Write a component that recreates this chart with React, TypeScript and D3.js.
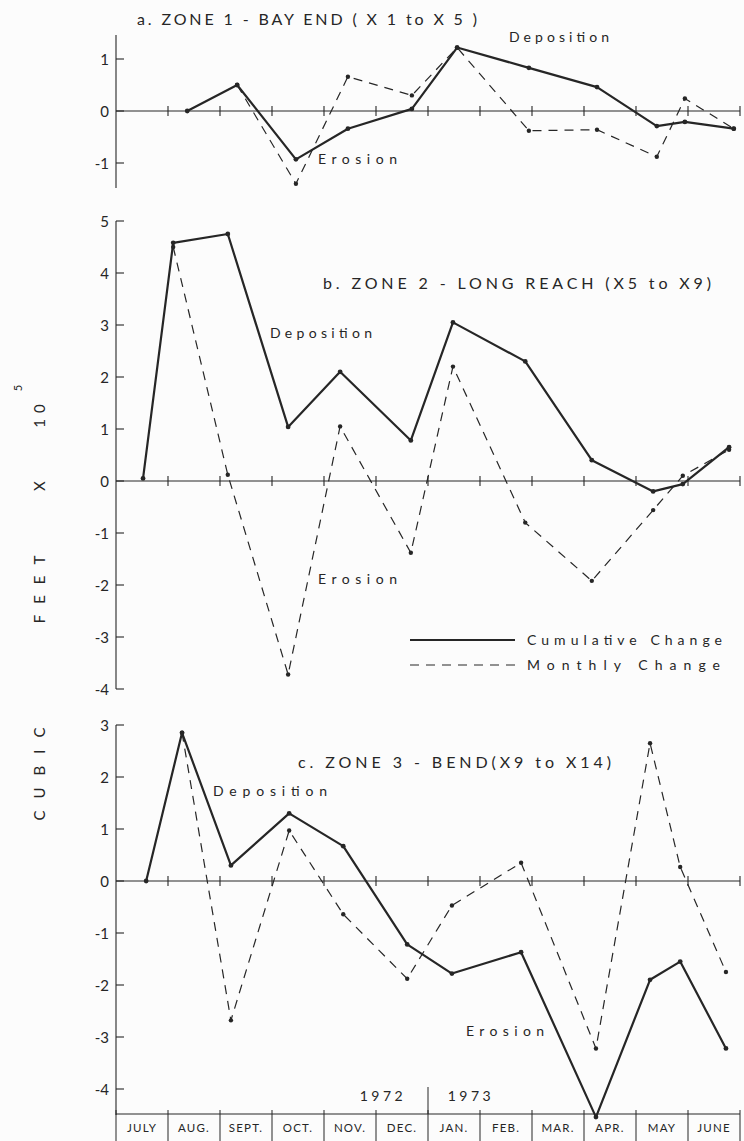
import React from "react";
import * as d3 from "d3";

// ---- Data ----
const MONTHS = ["JULY", "AUG.", "SEPT.", "OCT.", "NOV.", "DEC.", "JAN.", "FEB.", "MAR.", "APR.", "MAY", "JUNE"];

// survey dates in months since 1 July 1972
const zone1Dates = [1.37, 2.33, 3.46, 4.46, 5.69, 6.56, 7.94, 9.25, 10.4, 10.94, 11.88];
const zone1Cumulative = [0, 0.5, -0.93, -0.34, 0.04, 1.22, 0.83, 0.46, -0.29, -0.21, -0.34];
const zone1Monthly = [null, 0.5, -1.4, 0.66, 0.3, 1.22, -0.38, -0.36, -0.88, 0.24, -0.34];

const zone2Dates = [0.52, 1.1, 2.15, 3.31, 4.31, 5.67, 6.48, 7.87, 9.15, 10.33, 10.9, 11.79];
const zone2Cumulative = [0.05, 4.58, 4.75, 1.04, 2.1, 0.78, 3.05, 2.3, 0.4, -0.2, -0.06, 0.65];
const zone2Monthly = [null, 4.5, 0.12, -3.72, 1.05, -1.38, 2.2, -0.8, -1.92, -0.56, 0.1, 0.6];

const zone3Dates = [0.58, 1.27, 2.21, 3.33, 4.37, 5.6, 6.46, 7.79, 9.23, 10.27, 10.85, 11.73];
const zone3Cumulative = [0, 2.85, 0.3, 1.3, 0.67, -1.22, -1.78, -1.37, -4.54, -1.9, -1.55, -3.22];
const zone3Monthly = [null, 2.85, -2.68, 0.97, -0.64, -1.88, -0.47, 0.35, -3.22, 2.65, 0.27, -1.75];

const zone1Ticks = [1, 0, -1];
const zone2Ticks = [5, 4, 3, 2, 1, 0, -1, -2, -3, -4];
const zone3Ticks = [3, 2, 1, 0, -1, -2, -3, -4];

const TITLES = [
  "a. ZONE 1 - BAY END ( X 1 to X 5 )",
  "b. ZONE 2 - LONG REACH (X5 to X9)",
  "c. ZONE 3 - BEND(X9 to X14)",
];
const LEGEND = ["Cumulative Change", "Monthly Change"];
const YEARS = ["1972", "1973"];

// ---- Layout ----
const W = 744;
const H = 1141;
const X0 = 116;
const X1 = 740;
const UNIT = 52;
const INK = "#262626";
const FONT = "Lato, 'DejaVu Sans', sans-serif";

const x = d3.scaleLinear().domain([0, 12]).range([X0, X1]);

type Panel = {
  dates: number[];
  cum: number[];
  mon: (number | null)[];
  ticks: number[];
  zeroY: number;
  yMin: number;
  yMax: number;
  title: string;
  titleX: [number, number];
  titleY: number;
  dep: [number, number, number];
  ero: [number, number, number];
};

const panels: Panel[] = [
  {
    dates: zone1Dates, cum: zone1Cumulative, mon: zone1Monthly, ticks: zone1Ticks,
    zeroY: 111, yMin: -1.48, yMax: 1.46, title: TITLES[0], titleX: [137, 477], titleY: 25,
    dep: [509, 609, 42], ero: [318, 397, 164],
  },
  {
    dates: zone2Dates, cum: zone2Cumulative, mon: zone2Monthly, ticks: zone2Ticks,
    zeroY: 481, yMin: -4, yMax: 5, title: TITLES[1], titleX: [323, 711], titleY: 289,
    dep: [270, 372, 338], ero: [318, 397, 584],
  },
  {
    dates: zone3Dates, cum: zone3Cumulative, mon: zone3Monthly, ticks: zone3Ticks,
    zeroY: 881, yMin: -4.5, yMax: 3, title: TITLES[2], titleX: [298, 611], titleY: 768,
    dep: [213, 327, 796], ero: [466, 544, 1036],
  },
];

function PanelView({ p }: { p: Panel }) {
  const y = d3.scaleLinear().domain([0, 1]).range([p.zeroY, p.zeroY - UNIT]);
  const cumPts = p.dates.map((d, i) => [d, p.cum[i]] as [number, number]);
  const monPts = p.dates
    .map((d, i) => [d, p.mon[i]] as [number, number | null])
    .filter((q) => q[1] !== null) as [number, number][];
  const line = d3
    .line<[number, number]>()
    .x((d) => x(d[0]))
    .y((d) => y(d[1]));
  const boundaries = d3.range(1, 13);
  return (
    <g>
      {/* y axis */}
      <line x1={X0} x2={X0} y1={y(p.yMax)} y2={y(p.yMin)} stroke={INK} strokeWidth={1.1} />
      {p.ticks.map((t) => (
        <g key={t}>
          <line x1={X0} x2={X0 + 8} y1={y(t)} y2={y(t)} stroke={INK} strokeWidth={1.1} />
          <text x={109} y={y(t) + 5.5} textAnchor="end" fontSize={15} fill={INK} fontFamily={FONT}>
            {t < 0 ? "-" + Math.abs(t) : String(t)}
          </text>
        </g>
      ))}
      {/* zero line */}
      <line x1={X0} x2={X1} y1={y(0)} y2={y(0)} stroke={INK} strokeWidth={1.1} />
      {boundaries.map((b) => (
        <line key={b} x1={x(b)} x2={x(b)} y1={y(0) - 5} y2={y(0) + 5} stroke={INK} strokeWidth={1.1} />
      ))}
      {/* series */}
      <path d={line(monPts) || ""} fill="none" stroke={INK} strokeWidth={1.2} strokeDasharray="9,7" />
      <path d={line(cumPts) || ""} fill="none" stroke={INK} strokeWidth={2.2} strokeLinejoin="round" />
      {monPts.map((d, i) => (
        <circle key={"m" + i} cx={x(d[0])} cy={y(d[1])} r={2.2} fill={INK} />
      ))}
      {cumPts.map((d, i) => (
        <circle key={"c" + i} cx={x(d[0])} cy={y(d[1])} r={2.4} fill={INK} />
      ))}
      {/* labels */}
      <text x={p.titleX[0]} y={p.titleY} fontSize={16} fill={INK} fontFamily={FONT}
        textLength={p.titleX[1] - p.titleX[0]} lengthAdjust="spacing">{p.title}</text>
      <text x={p.dep[0]} y={p.dep[2]} fontSize={14} fill={INK} fontFamily={FONT}
        textLength={p.dep[1] - p.dep[0]} lengthAdjust="spacing">Deposition</text>
      <text x={p.ero[0]} y={p.ero[2]} fontSize={14} fill={INK} fontFamily={FONT}
        textLength={p.ero[1] - p.ero[0]} lengthAdjust="spacing">Erosion</text>
    </g>
  );
}

export default function App() {
  const tlY = 1114;
  const edges = d3.range(0, 13);
  return (
    <svg width={W} height={H} style={{ position: "absolute", left: 0, top: 0, background: "#fcfcfc" }}>
      <rect x={0} y={0} width={W} height={H} fill="#fcfcfc" />
      {panels.map((p, i) => (
        <PanelView key={i} p={p} />
      ))}

      {/* legend */}
      <line x1={410} x2={515} y1={640} y2={640} stroke={INK} strokeWidth={2} />
      <text x={527} y={645} fontSize={14} fill={INK} fontFamily={FONT} textLength={195} lengthAdjust="spacing">
        {LEGEND[0]}
      </text>
      <line x1={410} x2={515} y1={665} y2={665} stroke={INK} strokeWidth={1.2} strokeDasharray="9,7" />
      <text x={527} y={670} fontSize={14} fill={INK} fontFamily={FONT} textLength={193} lengthAdjust="spacing">
        {LEGEND[1]}
      </text>

      {/* timeline */}
      <line x1={X0} x2={X1} y1={tlY} y2={tlY} stroke={INK} strokeWidth={1.1} />
      {edges.map((e) => (
        <line key={e} x1={x(e)} x2={x(e)} y1={tlY - 4} y2={H} stroke={INK} strokeWidth={1} />
      ))}
      {MONTHS.map((m, i) => (
        <text key={m} x={x(i + 0.5)} y={1132} textAnchor="middle" fontSize={11.5} letterSpacing={1.2}
          fill={INK} fontFamily={FONT}>{m}</text>
      ))}
      <line x1={x(6)} x2={x(6)} y1={1087} y2={tlY} stroke={INK} strokeWidth={1} />
      <text x={383} y={1101} textAnchor="middle" fontSize={14} fill={INK} fontFamily={FONT} letterSpacing={3.5}>
        {YEARS[0]}
      </text>
      <text x={471} y={1101} textAnchor="middle" fontSize={14} fill={INK} fontFamily={FONT} letterSpacing={3.5}>
        {YEARS[1]}
      </text>

      {/* y-axis title, rotated */}
      <g fill={INK} fontFamily={FONT} fontSize={15}>
        <text transform="translate(45,768) rotate(-90)" textAnchor="middle" letterSpacing={12}>CUBIC</text>
        <text transform="translate(45,584) rotate(-90)" textAnchor="middle" letterSpacing={11}>FEET</text>
        <text transform="translate(45,486) rotate(-90)" textAnchor="middle">X</text>
        <text transform="translate(45,413) rotate(-90)" textAnchor="middle" letterSpacing={6}>10</text>
        <text transform="translate(22,388) rotate(-90)" textAnchor="middle" fontSize={11}>5</text>
      </g>
    </svg>
  );
}
